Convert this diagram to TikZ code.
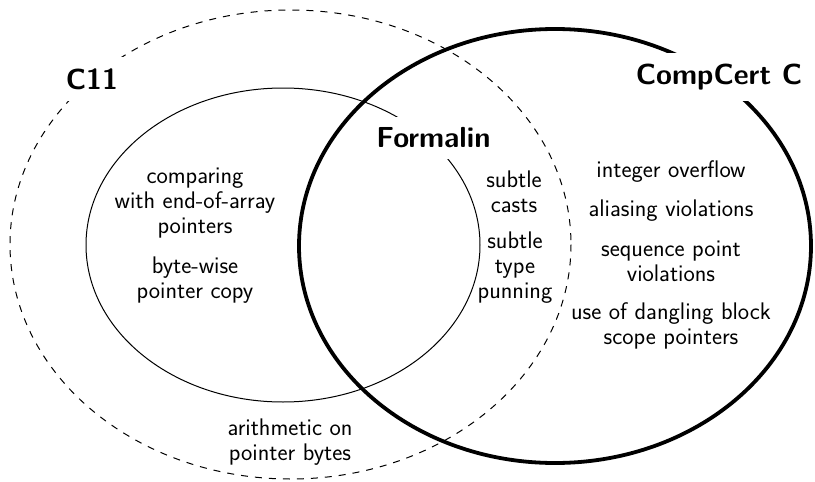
\documentclass[tikz,border=0pt]{standalone}
\usepackage{fontspec}
\begin{document}
\begin{tikzpicture}[x=1pt,y=-1pt,
  lbl/.style={font=\sffamily\fontsize{24}{25}\selectfont, align=center, inner sep=0pt},
  ttl/.style={font=\sffamily\bfseries\fontsize{29}{32}\selectfont, fill=white, inner sep=11pt},
  setdash/.style={line width=1pt, dash pattern=on 7pt off 7pt},
  setthin/.style={line width=1pt},
  setthick/.style={line width=3.8pt}]
\useasboundingbox (0,0) rectangle (815,482);
% sets
\draw[setdash] (290.5,244.5) ellipse [x radius=280.5, y radius=234.5];
\draw[setthin] (283,245) ellipse [x radius=197, y radius=157];
\draw[setthick] (555,246) ellipse [x radius=256, y radius=217];
% titles
\node[ttl] (c11) at (92,79) {C11};
\node[ttl] (ccc) at (719,77) {CompCert C};
\node[ttl] (form) at (433.5,138) {Formalin};
% labels
\node[lbl] (cmp) at (195,203) {comparing\\with end-of-array\\pointers};
\node[lbl] (bwc) at (195,280.5) {byte-wise\\pointer copy};
\node[lbl] (casts) at (514,191.5) {subtle\\casts};
\node[lbl] (pun) at (515,267.5) {subtle\\type\\punning};
\node[lbl] (ovf) at (671,171.5) {integer overflow};
\node[lbl] (alias) at (671,210.5) {aliasing violations};
\node[lbl] (seq) at (671,261.5) {sequence point\\violations};
\node[lbl] (dang) at (671,326) {use of dangling block\\scope pointers};
\node[lbl] (arith) at (290,442) {arithmetic on\\pointer bytes};
\end{tikzpicture}
\end{document}
